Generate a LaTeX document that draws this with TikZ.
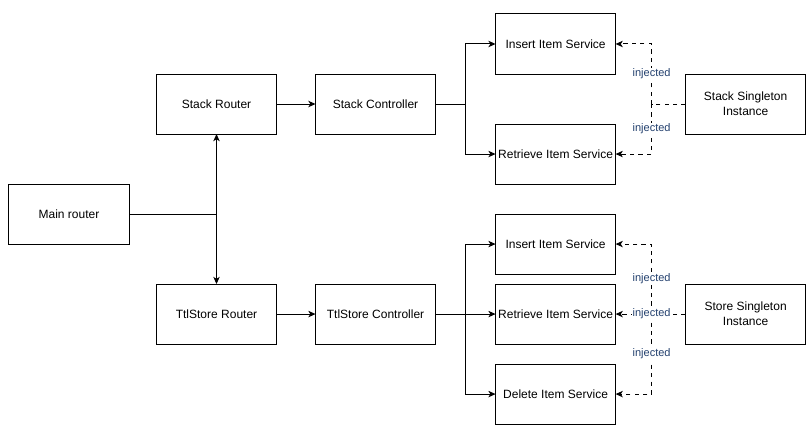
\documentclass[tikz,border=0pt]{standalone}
\usepackage{fontspec}
\setmainfont{Liberation Sans}
\usetikzlibrary{arrows.meta, positioning, calc}
\definecolor{injblue}{HTML}{23406E}

\begin{document}
\begin{tikzpicture}[
	x=0.025cm, y=-0.025cm,
	every node/.style={font=\fontsize{8.54}{10.7}\selectfont},
	block/.style={
		rectangle, draw, line width=0.7pt, inner sep=1pt, outer sep=0pt,
		minimum width=3cm, minimum height=1.5cm, align=center
	},
	arrow/.style={-{Stealth[length=0.18cm, width=0.16cm, inset=0.05cm]}, line width=0.7pt},
	dashline/.style={arrow, dash pattern=on 3pt off 3pt},
	inj/.style={fill=white, inner sep=0.5pt, text=injblue, font=\fontsize{7.83}{9}\selectfont}
	]
	\useasboundingbox (0,0) rectangle (808,443);
	
	% Nodes
	\node[block] (main) at (69,214) {Main router};
	\node[block] (stackrouter) at (216.5,104) {Stack Router};
	\node[block, right=0.975cm of stackrouter] (stackctrl) {Stack Controller};
	\node[block, below=3.75cm of stackrouter] (storerouter) {TtlStore Router};
	\node[block, right=0.975cm of storerouter] (storectrl) {TtlStore Controller};
	\node[block, right=1.5cm of stackctrl, yshift=1.5cm] (stackinsert) {Insert Item Service};
	\node[block, below=1.25cm of stackinsert] (stackretrieve) {Retrieve Item Service};
	\node[block, right=1.5cm of storectrl] (storeretrieve) {Retrieve Item Service};
	\node[block, above=0.25cm of storeretrieve] (storeinsert) {Insert Item Service};
	\node[block, below=0.5cm of storeretrieve] (storedelete) {Delete Item Service};
	\node[block, right=1.75cm of storeretrieve] (storesingleton) {Store Singleton\\ Instance};
	\node[block, above=3.75cm of storesingleton] (stacksingleton) {Stack Singleton\\ Instance};
	
	\coordinate (stackfork) at ($(stackctrl.east)+(30,0)$);
	\coordinate (storefork) at ($(storectrl.east)+(30,0)$);
	\coordinate (stackjoin) at ($(stacksingleton.west)+(-34,0)$);
	\coordinate (storejoin) at ($(storesingleton.west)+(-34,0)$);
	
	% Arrows
	\draw[arrow] (main) -| (stackrouter);
	\draw[arrow] (main) -| (storerouter);
	\draw[arrow] (stackrouter) -- (stackctrl);
	\draw[arrow] (storerouter) -- (storectrl);
	\draw[arrow] (stackctrl) -- (stackfork) |- (stackinsert);
	\draw[arrow] (stackfork) |- (stackretrieve);
	\draw[arrow] (storectrl) -- (storeretrieve);
	\draw[arrow] (storefork) |- (storeinsert);
	\draw[arrow] (storefork) |- (storedelete);
	
	% Injection
	\draw[dashline] (stacksingleton) -- (stackjoin) |- node[inj, pos=0.25] {injected} (stackinsert);
	\draw[dashline] (stackjoin) |- node[inj, pos=0.25] {injected} (stackretrieve);
	\draw[dashline] (storejoin) |- node[inj, pos=0.25] {injected} (storeinsert);
	\draw[dashline] (storejoin) |- node[inj, pos=0.25] {injected} (storedelete);
	\draw[dashline] (storesingleton) -- (storejoin) node[inj] {injected} -- (storeretrieve);
\end{tikzpicture}
\end{document}
